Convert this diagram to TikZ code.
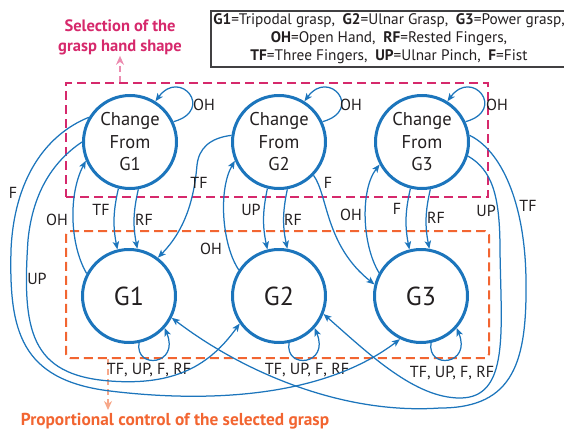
\documentclass[tikz,border=0pt]{standalone}
\usepackage{fontspec}
\setmainfont{PT Sans}
\usetikzlibrary{arrows.meta}
\definecolor{cblue}{RGB}{28,117,188}
\definecolor{cpink}{RGB}{214,41,108}
\definecolor{cpinkl}{RGB}{236,140,176}
\definecolor{corange}{RGB}{242,101,49}
\definecolor{corangel}{RGB}{247,168,138}
\definecolor{ctext}{RGB}{35,31,32}
\definecolor{cframe}{RGB}{65,64,66}
\begin{document}
\begin{tikzpicture}[x=1pt,y=-1pt,
  state/.style={circle, draw=cblue, line width=3pt, minimum size=93pt, inner sep=0pt,
    text=ctext, font=\fontsize{18.5}{22.5}\selectfont, align=center},
  gstate/.style={state, font=\fontsize{26}{30}\selectfont},
  e/.style={draw=cblue, line width=1.25pt, -{Stealth[length=8pt,width=6.5pt,inset=2pt]}},
  lab/.style={font=\fontsize{16}{18}\selectfont, text=ctext, inner sep=0pt},
  pinkbox/.style={draw=cpink, line width=2pt, dash pattern=on 9pt off 5pt, inner sep=0pt},
  orangebox/.style={draw=corange, line width=2pt, dash pattern=on 9pt off 5pt, rounded corners=4pt, inner sep=0pt},
  pinkarr/.style={draw=cpinkl, line width=2pt, dash pattern=on 6pt off 4pt, -{Stealth[length=9pt,width=8pt]}},
  orangearr/.style={draw=corangel, line width=2pt, dash pattern=on 6pt off 4pt, -{Stealth[length=9pt,width=8pt]}},
  legend/.style={draw=cframe, line width=2pt, inner sep=0pt, align=center, text=ctext,
    font=\fontsize{15.3}{18}\selectfont},
  titletxt/.style={font=\bfseries\fontsize{16.5}{20}\selectfont, align=center, inner sep=1pt}
]
\useasboundingbox (0,0) rectangle (564,431);

% dashed regions
\node[pinkbox, minimum width=422pt, minimum height=114pt] (selbox) at (277,140) {};
\node[orangebox, minimum width=423pt, minimum height=127pt] (ctlbox) at (277.5,294.5) {};

% titles
\node[titletxt, text=cpink] (seltxt) at (120,37) {Selection of the\\grasp hand shape};
\node[titletxt, text=corange, font=\bfseries\fontsize{17.3}{20}\selectfont] (ctltxt) at (175,421) {Proportional control of the selected grasp};
\coordinate (ctlend) at (108,410);
\draw[pinkarr] (selbox.north -| seltxt.south) -- (seltxt.south);
\draw[orangearr] (ctlbox.south -| ctlend) -- (ctlend);

% legend
\node[legend, minimum width=356pt, minimum height=56pt, anchor=north west] (leg) at (210,10)
 {\textbf{G1}=Tripodal grasp,\enspace\textbf{G2}=Ulnar Grasp,\enspace\textbf{G3}=Power grasp,\\
  \textbf{OH}=Open Hand,\enspace\textbf{RF}=Rested Fingers,\\
  \textbf{TF}=Three Fingers,\enspace\textbf{UP}=Ulnar Pinch,\enspace\textbf{F}=Fist};

% states
\node[state] (C1) at (130,142) {Change\\From\\G1};
\node[state] (C2) at (279,142) {Change\\From\\G2};
\node[state] (C3) at (422,142) {Change\\From\\G3};
\node[gstate] (G1) at (129,296) {G1};
\node[gstate] (G2) at (279,296) {G2};
\node[gstate] (G3) at (421,296) {G3};

% self loops on change states
\draw[e] (C1.25) .. controls (215,110) and (180,68) .. (C1.58) node[lab] (lC1) at (204,105) {OH};
\draw[e] (C2.25) .. controls (364,110) and (329,68) .. (C2.58) node[lab] (lC2) at (351,105) {OH};
\draw[e] (C3.25) .. controls (507,110) and (472,68) .. (C3.58) node[lab] (lC3) at (497,105) {OH};

% self loops on grasp states
\draw[e] (G1.-78) .. controls (135,370) and (180,365) .. (G1.-42) node[lab] (lG1) at (149,370) {TF, UP, F, RF};
\draw[e] (G2.-78) .. controls (285,370) and (330,365) .. (G2.-42) node[lab] (lG2) at (307,370) {TF, UP, F, RF};
\draw[e] (G3.-78) .. controls (427,370) and (472,365) .. (G3.-42) node[lab] (lG3) at (452,373) {TF, UP, F, RF};

% change -> grasp (vertical pairs)
\draw[e] (C1.256) to[bend right=12] (G1.104) node[lab] (l11a) at (101,210) {TF};
\draw[e] (C1.280) to[bend right=12] (G1.80) node[lab] (l11b) at (144,220) {RF};
\draw[e] (C2.256) to[bend right=12] (G2.104) node[lab] (l22a) at (251,210) {UP};
\draw[e] (C2.280) to[bend right=12] (G2.80) node[lab] (l22b) at (293,220) {RF};
\draw[e] (C3.256) to[bend right=12] (G3.104) node[lab] (l33a) at (397,209) {F};
\draw[e] (C3.280) to[bend right=12] (G3.80) node[lab] (l33b) at (436,218) {RF};

% grasp -> change (open hand)
\draw[e] (G1.152) .. controls (70,245) and (68,195) .. (C1.203) node[lab] (lo1) at (57,220) {OH};
\draw[e] (G2.147) .. controls (222,245) and (218,190) .. (C2.203) node[lab] (lo2) at (211,249) {OH};
\draw[e] (G3.151) .. controls (362,245) and (360,190) .. (C3.208) node[lab] (lo3) at (351,215) {OH};

% cross connections
\draw[e] (C2.172) .. controls (210,138) and (199,148) .. (197,165)
  .. controls (194,200) and (185,230) .. (G1.53) node[lab] (l21) at (199,183) {TF};
\draw[e] (C2.-44) .. controls (328,195) and (325,245) .. (G3.166) node[lab] (l23) at (328,183) {F};

% long connections, left side
\draw[e] (C1.149) .. controls (45,135) and (14,180) .. (11,250)
  .. controls (9,330) and (20,380) .. (110,391)
  .. controls (200,402) and (320,400) .. (G3.244) node[lab] (l13) at (13,193) {F};
\draw[e] (C1.180) .. controls (55,160) and (33,190) .. (28,240)
  .. controls (22,330) and (30,375) .. (110,381)
  .. controls (175,386) and (210,365) .. (G2.215) node[lab] (l12) at (37,279) {UP};

% long connections, right side
\draw[e] (C3.8) .. controls (500,150) and (525,200) .. (526,280)
  .. controls (527,360) and (515,408) .. (440,408)
  .. controls (340,415) and (240,370) .. (G1.-27) node[lab] (l31) at (528,206) {TF};
\draw[e] (C3.-17) .. controls (492,170) and (500,195) .. (500,250)
  .. controls (501,330) and (510,398) .. (460,398)
  .. controls (415,398) and (370,355) .. (G2.-22) node[lab] (l32) at (486,211) {UP};
\end{tikzpicture}
\end{document}
